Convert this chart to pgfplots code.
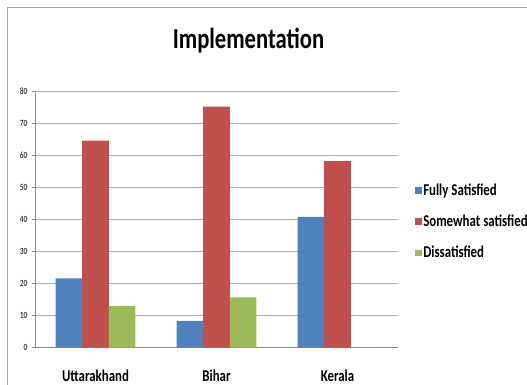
\documentclass[border=0pt]{standalone}
\usepackage{pgfplots}
\pgfplotsset{compat=1.18}
\usepackage{fontspec}
\setmainfont{Carlito}
\newfontfamily\narrow[FakeStretch=0.78]{Carlito}

\definecolor{sBlue}{HTML}{4F81BD}
\definecolor{sRed}{HTML}{C0504D}
\definecolor{sGreen}{HTML}{9BBB59}
\definecolor{gridGray}{HTML}{B0B0B0}
\definecolor{axisGray}{HTML}{8C8C8C}
\definecolor{frameGray}{HTML}{A6A6A6}

\begin{document}
\begin{tikzpicture}[x=1pt,y=1pt]
\useasboundingbox (0,0) rectangle (527,385);
% chart frame
\draw[frameGray, line width=0.9pt] (7,0) -- (7,378) -- (527,378);
% title
\node[anchor=base, font=\narrow\bfseries\fontsize{29}{32}\selectfont] at (248.5,336.5) {Implementation};

\begin{axis}[
  at={(35pt,37.3pt)}, anchor=south west,
  scale only axis, width=363pt, height=256pt,
  xmin=-0.5, xmax=2.5, ymin=0, ymax=80,
  ytick distance=10,
  ymajorgrids, grid style={gridGray, line width=0.9pt},
  axis x line*=bottom, axis y line*=left,
  axis line style={axisGray, line width=0.8pt, -},
  tick style={axisGray, line width=0.8pt},
  tick align=outside, major tick length=3pt,
  xtick={0,1,2},
  xticklabels={Uttarakhand, Bihar, Kerala},
  x tick style={draw=none},
  xticklabel style={font=\narrow\bfseries\fontsize{16.5}{18}\selectfont, yshift=-16pt},
  extra x ticks={-0.5,0.5,1.5,2.5},
  extra x tick labels={},
  extra x tick style={grid=none, tick style={axisGray, line width=0.8pt}, major tick length=4.5pt},
  /pgf/number format/assume math mode=true,
  yticklabel style={font=\narrow\fontsize{9.5}{11}\selectfont, xshift=-1pt},
  ybar, bar width=0.22,
  legend style={at={(1.047,0.492)}, anchor=west, draw=none, fill=none,
    font=\narrow\bfseries\fontsize{16.5}{18}\selectfont,
    row sep=15pt, inner sep=0pt,
    nodes={inner sep=1.5pt, anchor=west}},
  legend cell align=left,
  legend image code/.code={\fill[#1] (0pt,-3.25pt) rectangle (6.5pt,3.25pt);},
]
\addplot[fill=sBlue, draw=none, bar shift=-0.22] coordinates {(0,21.7) (1,8.4) (2,40.9)};
\addplot[fill=sRed, draw=none, bar shift=0] coordinates {(0,64.7) (1,75.3) (2,58.3)};
\addplot[fill=sGreen, draw=none, bar shift=0.22] coordinates {(0,13.0) (1,15.7) (2,0)};
\legend{Fully Satisfied, Somewhat satisfied, Dissatisfied}
\end{axis}
\end{tikzpicture}
\end{document}
